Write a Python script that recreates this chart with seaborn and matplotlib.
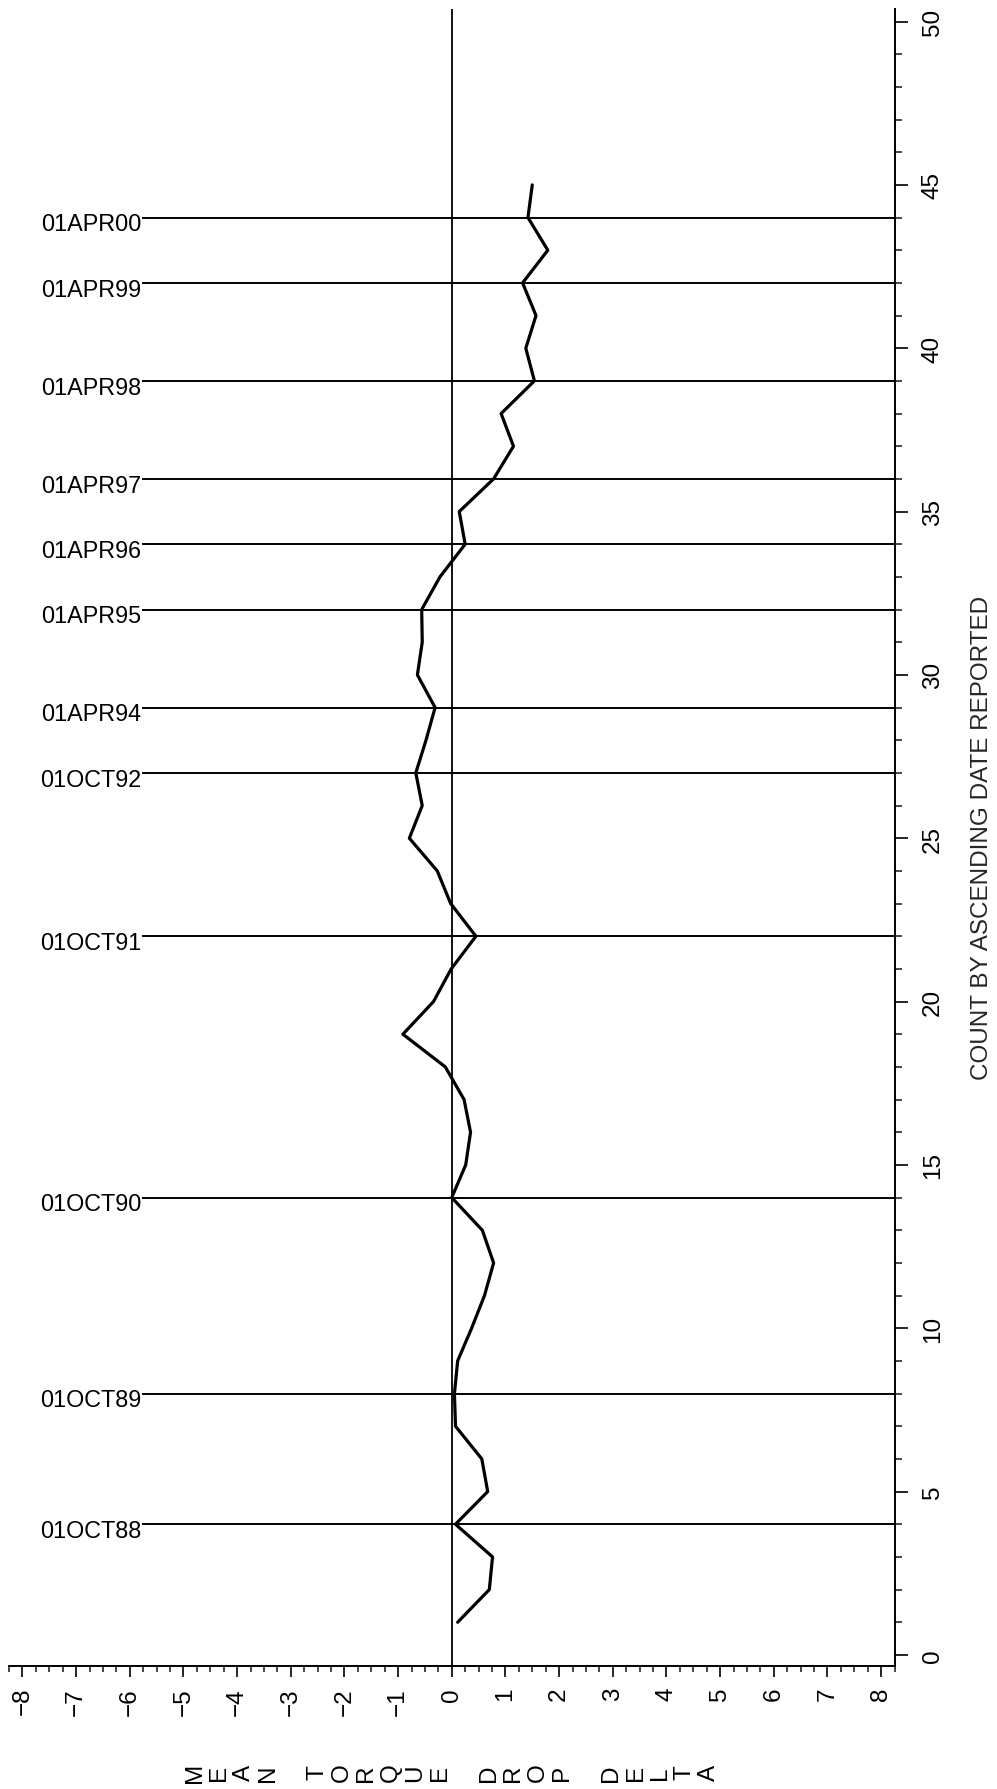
import matplotlib
matplotlib.use("Agg")
import matplotlib.pyplot as plt
from matplotlib.ticker import MultipleLocator
import seaborn as sns
import pandas as pd

# ---- data ----
count = list(range(1, 46))
delta = [0.11, 0.70, 0.76, 0.07, 0.67, 0.56, 0.07, 0.05, 0.11, 0.37,
         0.61, 0.78, 0.57, 0.00, 0.26, 0.35, 0.23, -0.12, -0.91, -0.34,
         -0.01, 0.45, -0.02, -0.27, -0.79, -0.55, -0.67, -0.48, -0.31, -0.64,
         -0.55, -0.56, -0.22, 0.25, 0.14, 0.78, 1.15, 0.92, 1.54, 1.38,
         1.57, 1.32, 1.79, 1.42, 1.50]
ref_counts = [4, 8, 14, 22, 27, 29, 32, 34, 36, 39, 42, 44]
ref_labels = ["01OCT88", "01OCT89", "01OCT90", "01OCT91", "01OCT92", "01APR94",
              "01APR95", "01APR96", "01APR97", "01APR98", "01APR99", "01APR00"]
x_ticks = list(range(-8, 9))
y_ticks = list(range(0, 51, 5))
x_title = "MEAN TORQUE DROP DELTA"
y_title = "COUNT BY ASCENDING DATE REPORTED"

df = pd.DataFrame({"delta": delta, "count": count})

sns.set_style("white")
plt.rcParams["font.family"] = ["Liberation Sans", "DejaVu Sans"]

W, H = 997, 1790
fig = plt.figure(figsize=(W / 100, H / 100), dpi=100)
left_px, right_px, top_px, bot_px = 9.0, 894.5, 9.8, 1666.7
ax = fig.add_axes([left_px / W, (H - bot_px) / H,
                   (right_px - left_px) / W, (bot_px - top_px) / H])

xmin, xmax = -8.25, 8.25
ymin, ymax = -0.33, 50.39
ax.set_xlim(xmin, xmax)
ax.set_ylim(ymin, ymax)

# reference lines
ref_start = -5.78
ax.hlines(ref_counts, ref_start, xmax, colors="black", linewidth=1.4, zorder=2)
ax.axvline(0, color="black", linewidth=1.3, zorder=2)
for yv, lab in zip(ref_counts, ref_labels):
    ax.text(ref_start, yv - 0.19, lab, ha="right", va="center",
            fontsize=16.8, color="black")

# data line
sns.lineplot(data=df, x="delta", y="count", sort=False, estimator=None,
             color="black", linewidth=2.3, ax=ax, zorder=3)

# spines
for s in ["top", "left"]:
    ax.spines[s].set_visible(False)
for s in ["bottom", "right"]:
    ax.spines[s].set_visible(True)
    ax.spines[s].set_color("black")
    ax.spines[s].set_linewidth(1.4)

# x axis ticks
ax.set_xticks(x_ticks)
ax.set_xticklabels([f"\u2212{abs(v)}" if v < 0 else str(v) for v in x_ticks])
ax.xaxis.set_minor_locator(MultipleLocator(0.25))
ax.tick_params(axis="x", which="major", direction="out", length=7.7, width=1.2,
               pad=7.6, labelsize=17.5, labelrotation=90, colors="black",
               bottom=True)
ax.tick_params(axis="x", which="minor", direction="out", length=4.1, width=1.2,
               bottom=True)

# y axis on right
ax.yaxis.tick_right()
ax.set_yticks(y_ticks)
ax.yaxis.set_minor_locator(MultipleLocator(1))
ax.tick_params(axis="y", which="major", direction="out", length=9.6, width=1.2,
               pad=10, labelsize=17.5, labelrotation=90, colors="black",
               right=True, left=False)
ax.tick_params(axis="y", which="minor", direction="out", length=5.3, width=1.2,
               right=True, left=False)
for t in ax.get_yticklabels():
    t.set_va("center")

ax.set_xlabel("")
ax.yaxis.set_label_position("right")
ax.set_ylabel(y_title, fontsize=17.5, rotation=90, va="center", ha="center")
ax.yaxis.set_label_coords((982 - left_px) / (right_px - left_px), 0.5)

# stacked, rotated letters of the x title
pitch = 24.5 / (right_px - left_px)
n = len(x_title)
ty = (bot_px - 1773) / (bot_px - top_px)
for i, ch in enumerate(x_title):
    if ch == " ":
        continue
    ax.text(0.5 + (i - (n - 1) / 2) * pitch, ty, ch, transform=ax.transAxes,
            rotation=90, ha="center", va="center", fontsize=17.5, color="black",
            clip_on=False)

fig.savefig("out.png", dpi=100, facecolor="white")
